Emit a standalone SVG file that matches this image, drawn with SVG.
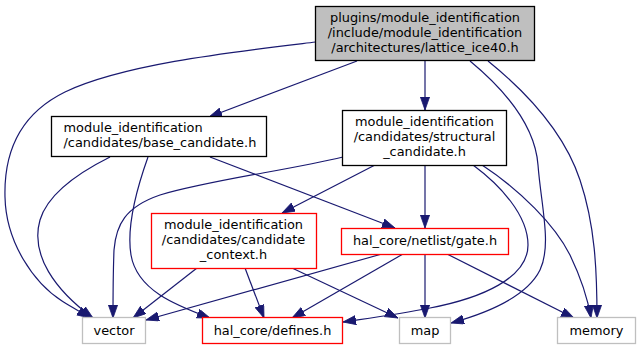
<svg xmlns="http://www.w3.org/2000/svg" width="641" height="349" viewBox="0 0 641 349">
<style>
  .bg { fill: #ffffff; }
  .node rect { stroke-width: 1.3; fill: #ffffff; }
  .blk { stroke: #000000; }
  .red { stroke: #ff0000; }
  .gry { stroke: #bfbfbf; }
  .cur { fill: #bfbfbf !important; }
  text { font-family: "DejaVu Sans", "Noto Sans", sans-serif; font-size: 12.9px; fill: #000000; }
  .c { text-anchor: middle; }
  .l { text-anchor: start; }
  #edges path { fill: none; stroke: #191970; stroke-width: 1.2; marker-end: url(#arr); }
</style>
<defs>
  <marker id="arr" markerUnits="userSpaceOnUse" markerWidth="13" markerHeight="10" refX="13" refY="4.6" orient="auto">
    <path d="M0,0 L13,4.6 L0,9.2 z" fill="#191970" stroke="#191970" stroke-width="0.8"/>
  </marker>
</defs>
<rect class="bg" x="0" y="0" width="641" height="349"/>

<g id="edges">
  <!-- top -> vector -->
  <path d="M315.5,42 C233,52 124,64 65,92 C14,117 4,160 5,197 C6,243 34,283 62,301 C70,306 79,311 90,318"/>
  <!-- top -> base_candidate -->
  <path d="M357,61 L209,117"/>
  <!-- top -> structural -->
  <path d="M425,61 L425,110"/>
  <!-- top -> map -->
  <path d="M470,61 C505,90 535,125 538,165 C541,205 552,245 540,270 C525,300 480,315 451,323"/>
  <!-- top -> memory -->
  <path d="M488,61 C530,95 565,135 580,180 C595,225 597,270 597,318"/>
  <!-- base -> vector -->
  <path d="M110,157 C80,172 48,193 40,220 C30,255 55,290 93,318"/>
  <!-- base -> defines -->
  <path d="M148,157 C138,185 126,225 131,255 C137,290 175,305 210,318"/>
  <!-- base -> gate -->
  <path d="M210,157 L395,228"/>
  <!-- structural -> vector -->
  <path d="M343,157 C290,170 210,180 160,195 C125,207 116,225 114,250 C113,275 113,300 113,318"/>
  <!-- structural -> candidate_context -->
  <path d="M375,165 L282,213"/>
  <!-- structural -> gate -->
  <path d="M425,165 L425,228"/>
  <!-- structural -> defines -->
  <path d="M473,165 C500,185 528,215 528,245 C528,278 482,298 430,308 C400,314 370,318 343,322"/>
  <!-- structural -> memory -->
  <path d="M482,165 C520,190 555,225 570,255 C582,280 588,300 591,318"/>
  <!-- candidate_context -> vector -->
  <path d="M197,268 L133,318"/>
  <!-- candidate_context -> defines -->
  <path d="M245,268 L264,318"/>
  <!-- candidate_context -> map -->
  <path d="M292,268 L398,318"/>
  <!-- gate -> vector -->
  <path d="M382,254 L146,320"/>
  <!-- gate -> defines -->
  <path d="M403,254 L292,318"/>
  <!-- gate -> map -->
  <path d="M425,254 L425,318"/>
  <!-- gate -> memory -->
  <path d="M447,254 L574,318"/>
</g>

<g id="node-lattice_ice40" class="node">
  <rect class="blk cur" x="315.5" y="6.5" width="219" height="54"/>
  <text class="c" x="425" y="22">plugins/module_identification</text>
  <text class="c" x="425" y="37">/include/module_identification</text>
  <text class="c" x="425" y="52">/architectures/lattice_ice40.h</text>
</g>
<g id="node-base_candidate" class="node">
  <rect class="blk" x="51.5" y="116.5" width="215" height="40"/>
  <text class="l" x="63.5" y="132">module_identification</text>
  <text class="l" x="63.5" y="147">/candidates/base_candidate.h</text>
</g>
<g id="node-structural_candidate" class="node">
  <rect class="blk" x="342.5" y="110.5" width="164" height="55"/>
  <text class="c" x="424.5" y="126">module_identification</text>
  <text class="c" x="424.5" y="141">/candidates/structural</text>
  <text class="c" x="424.5" y="156">_candidate.h</text>
</g>
<g id="node-candidate_context" class="node">
  <rect class="red" x="151.5" y="213.5" width="165" height="55"/>
  <text class="c" x="233.5" y="229">module_identification</text>
  <text class="c" x="233.5" y="244">/candidates/candidate</text>
  <text class="c" x="233.5" y="259">_context.h</text>
</g>
<g id="node-gate" class="node">
  <rect class="red" x="341.5" y="228.5" width="167" height="26"/>
  <text class="c" x="425" y="244.5">hal_core/netlist/gate.h</text>
</g>
<g id="node-vector" class="node">
  <rect class="gry" x="82.5" y="317.5" width="63" height="26"/>
  <text class="c" x="114" y="334.5">vector</text>
</g>
<g id="node-defines" class="node">
  <rect class="red" x="202.5" y="317.5" width="140" height="26"/>
  <text class="c" x="272.5" y="334.5">hal_core/defines.h</text>
</g>
<g id="node-map" class="node">
  <rect class="gry" x="399.5" y="317.5" width="51" height="26"/>
  <text class="c" x="425" y="334.5">map</text>
</g>
<g id="node-memory" class="node">
  <rect class="gry" x="557.5" y="317.5" width="78" height="26"/>
  <text class="c" x="596.5" y="334.5">memory</text>
</g>
</svg>
